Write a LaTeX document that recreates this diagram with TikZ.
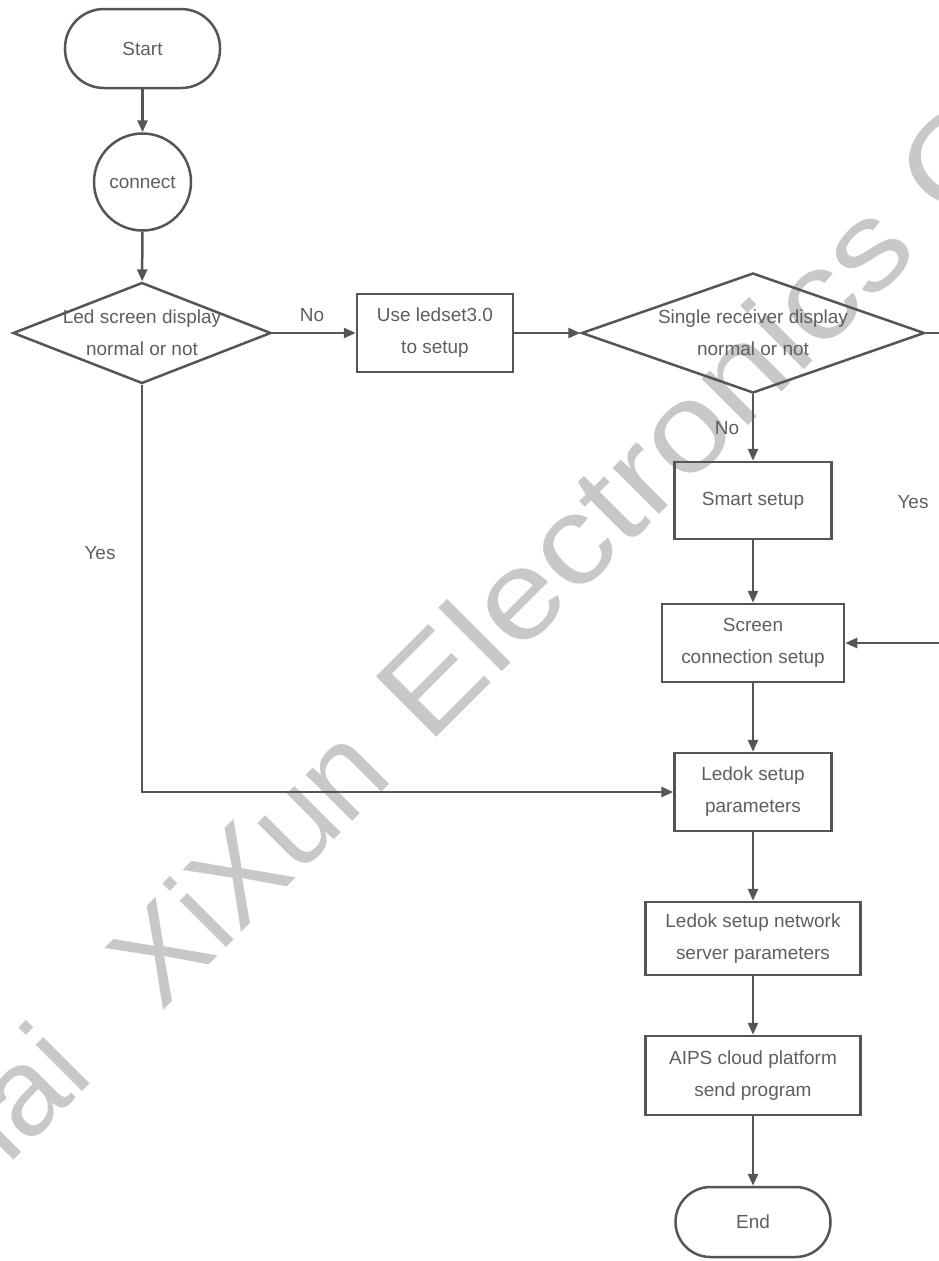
\documentclass[tikz,border=0pt]{standalone}
\usepackage{fontspec}
\setmainfont{Liberation Sans}
\newfontfamily\wmwide[FakeStretch=1.146]{Liberation Sans}
\usetikzlibrary{shapes.geometric,arrows.meta}

\definecolor{edge}{HTML}{555555}
\definecolor{ink}{HTML}{5E5E5E}
\definecolor{wmgray}{HTML}{C8C8C8}

\begin{document}
\begin{tikzpicture}[x=0.2mm,y=0.2mm]
\tikzstyle{every node}+=[inner sep=0pt, text=ink, align=center, font=\fontsize{10.8}{18.2}\selectfont]
\tikzstyle{box}=[draw=edge, line width=0.5mm, rectangle]
\tikzstyle{term}=[box, minimum width=31mm, rounded corners=7mm]
\tikzstyle{dec}=[draw=edge, line width=0.5mm, diamond, aspect=2.6]
\tikzstyle{line}=[draw=edge, line width=0.5mm, -{Triangle[length=2.4mm,width=2mm]}]
\tikzstyle{wm}=[rotate=45, text=wmgray, font=\fontsize{70.6}{80}\selectfont]
\useasboundingbox (0,0) rectangle (939,-1261);
\clip (0,0) rectangle (939,-1261);
% watermark
\node [wm, anchor=base east] (wmcity) at (96.3,-1077.8) {Shanghai};
\node [wm, anchor=base west] (wmname) at (161.3,-1012.7) {XiXun};
\node [wm, anchor=base west] (wmfirm) at (428.6,-745.4) {\wmwide Electronics Co., Ltd.};
% main column
\node [term, minimum height=15.8mm, rounded corners=7.8mm] (start) at (142.5,-48.5) {Start};
\node [draw=edge, line width=0.5mm, circle, minimum size=19.4mm] (conn) at (142.5,-182) {connect};
\node [dec, minimum width=51.6mm, minimum height=20.2mm,
  label=center:{Led screen display\\normal or not}] (d1) at (142,-333) {};
\node [box, minimum width=31.2mm, minimum height=15.6mm] (use) at (435,-333) {Use ledset3.0\\to setup};
\node [dec, minimum width=68.6mm, minimum height=24mm,
  label=center:{Single receiver display\\normal or not}] (d2) at (753,-333) {};
\node [box, minimum width=31.4mm, minimum height=15.4mm] (smart) at (753,-500.5) {Smart setup};
\node [box, minimum width=36.4mm, minimum height=15.6mm] (scr) at (753,-643) {Screen\\connection setup};
\node [box, minimum width=31.4mm, minimum height=15.6mm] (par) at (753,-792) {Ledok setup\\parameters};
\node [box, minimum width=43mm, minimum height=14.6mm] (net) at (753,-938.5) {Ledok setup network\\server parameters};
\node [box, minimum width=43mm, minimum height=15.8mm] (aips) at (753,-1075.5) {AIPS cloud platform\\send program};
\node [term, minimum height=14mm] (end) at (753,-1222) {End};
% branch labels
\node (no1) at (312,-315) {No};
\node (no2) at (727,-428) {No};
\node (yes1) at (100,-553) {Yes};
\node (yes2) at (913,-502) {Yes};
% connectors
\draw [line] (start) -- (conn);
\draw [line] (conn) -- (d1);
\draw [line] (d1.east) -- (use.west);
\draw [line] (use.east) -- (d2.west);
\draw [line] (d2.south) -- (smart.north);
\draw [line] (smart) -- (scr);
\draw [line] (d2.east) -- ++(60,0) |- (scr.east);
\draw [line] (scr) -- (par);
\draw [line] (d1.south) |- (par.west);
\draw [line] (par) -- (net);
\draw [line] (net) -- (aips);
\draw [line] (aips) -- (end);
\end{tikzpicture}
\end{document}
